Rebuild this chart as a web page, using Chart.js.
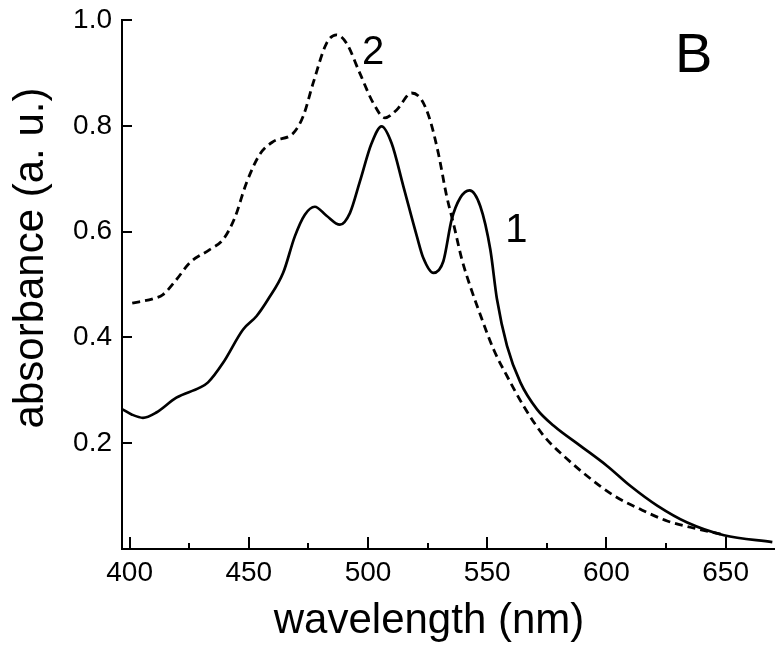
<!DOCTYPE html>
<html>
<head>
<meta charset="utf-8">
<script src="https://cdn.jsdelivr.net/npm/chart.js@4.4.1/dist/chart.umd.min.js"></script>
<style>
  body { margin: 0; background: #fff; }
</style>
</head>
<body>
<canvas id="chart" width="783" height="653"></canvas>
<script>
// curve 1 (solid)
const wl1 = [397, 401, 405.6, 411.2, 419.6, 429.4, 432.9, 439.2, 447.6, 453.2, 458.1, 464.4, 469.3, 473.5, 477.7, 482.6, 488.2, 492.4, 496.6, 501.5, 505.7, 509.9, 514.8, 520.5, 523.2, 527.4, 531.6, 535.1, 538.7, 542.6, 547.1, 551.3, 554.1, 558.3, 563.9, 570.9, 577.9, 589.1, 600.3, 610.1, 621.3, 633.9, 649.3, 669.6];
const abs1 = [0.264, 0.254, 0.248, 0.258, 0.286, 0.305, 0.315, 0.352, 0.415, 0.440, 0.472, 0.522, 0.591, 0.632, 0.647, 0.630, 0.613, 0.635, 0.695, 0.767, 0.799, 0.767, 0.686, 0.591, 0.550, 0.522, 0.544, 0.623, 0.664, 0.678, 0.648, 0.566, 0.472, 0.384, 0.315, 0.264, 0.233, 0.195, 0.157, 0.119, 0.082, 0.050, 0.026, 0.013];

// curve 2 (dashed)
const wl2 = [401.1, 409.8, 414, 419.6, 425.2, 433.6, 439.2, 444.1, 449, 454.6, 460.2, 468.6, 472.8, 477, 482.6, 486.8, 491, 496.6, 502.2, 507.1, 512, 518.3, 522.5, 526, 529.5, 533, 535.8, 539.4, 543, 547.1, 552.7, 558.3, 565.3, 573.7, 582.1, 591.9, 603.1, 614.3, 625.5, 638.1, 650];
const abs2 = [0.465, 0.473, 0.481, 0.509, 0.541, 0.566, 0.585, 0.626, 0.692, 0.746, 0.770, 0.786, 0.818, 0.881, 0.956, 0.972, 0.956, 0.899, 0.843, 0.815, 0.830, 0.862, 0.849, 0.811, 0.748, 0.667, 0.616, 0.547, 0.495, 0.443, 0.377, 0.327, 0.270, 0.214, 0.176, 0.138, 0.101, 0.075, 0.053, 0.038, 0.026];

// axis settings
const xMin = 396.8, xMax = 670.3, xStep = 25;
const yMin = 0, yMax = 1.0, yStep = 0.2;

// text labels placed in data coordinates
const marks = [
  { text: '2', x: 502.1, y: 0.938, size: 40 },
  { text: '1', x: 562.2, y: 0.602, size: 40 },
  { text: 'B', x: 636.6, y: 0.930, size: 56 }
];
const xTitle = 'wavelength (nm)';
const yTitle = 'absorbance (a. u.)';

const FONT = '"Liberation Sans", Arial, sans-serif';

const toPts = (xs, ys) => xs.map((x, i) => ({ x: x, y: ys[i] }));

const extras = {
  id: 'extras',
  afterDraw(chart) {
    const { ctx, chartArea, scales } = chart;
    const xs = scales.x, ys = scales.y;
    ctx.save();
    ctx.strokeStyle = '#000';
    ctx.lineWidth = 2;
    // inward tick marks
    xs.ticks.forEach(t => {
      const px = Math.round(xs.getPixelForValue(t.value));
      const len = (Math.round(t.value) % 50 === 0) ? 12 : 6;
      ctx.beginPath();
      ctx.moveTo(px, chartArea.bottom);
      ctx.lineTo(px, chartArea.bottom - len);
      ctx.stroke();
    });
    ys.ticks.forEach(t => {
      if (t.value <= 1e-9) return;
      const py = Math.round(ys.getPixelForValue(t.value));
      ctx.beginPath();
      ctx.moveTo(chartArea.left, py);
      ctx.lineTo(chartArea.left + 10, py);
      ctx.stroke();
    });
    // annotations
    ctx.fillStyle = '#000';
    ctx.textAlign = 'center';
    ctx.textBaseline = 'middle';
    marks.forEach(m => {
      ctx.font = m.size + 'px ' + FONT;
      ctx.fillText(m.text, xs.getPixelForValue(m.x), ys.getPixelForValue(m.y));
    });
    // axis titles
    ctx.font = '42px ' + FONT;
    ctx.textBaseline = 'alphabetic';
    ctx.fillText(xTitle, 429, 633);
    ctx.translate(43, 258);
    ctx.rotate(-Math.PI / 2);
    ctx.fillText(yTitle, 0, 0);
    ctx.restore();
  }
};

const ctx = document.getElementById('chart');

new Chart(ctx, {
  type: 'line',
  data: {
    datasets: [{
      label: '1',
      data: toPts(wl1, abs1),
      borderColor: '#000',
      borderWidth: 2.7,
      pointRadius: 0,
      cubicInterpolationMode: 'monotone',
      fill: false
    }, {
      label: '2',
      data: toPts(wl2, abs2),
      borderColor: '#000',
      borderWidth: 2.8,
      borderDash: [8, 5],
      pointRadius: 0,
      cubicInterpolationMode: 'monotone',
      fill: false
    }]
  },
  options: {
    responsive: false,
    animation: false,
    layout: { padding: { top: 20, right: 9, left: 0, bottom: 0 } },
    plugins: {
      legend: { display: false },
      tooltip: { enabled: false }
    },
    scales: {
      x: {
        type: 'linear',
        min: xMin,
        max: xMax,
        grid: { display: false, drawTicks: false },
        border: { display: true, color: '#000', width: 2 },
        ticks: {
          stepSize: xStep,
          includeBounds: false,
          autoSkip: false,
          maxRotation: 0,
          padding: 7,
          color: '#000',
          font: { family: FONT, size: 28 },
          callback: v => (Math.round(v) % 50 === 0 ? String(Math.round(v)) : '')
        },
        afterFit(scale) {
          scale.height = 104;
          scale.paddingLeft = 0;
          scale.paddingRight = 0;
        }
      },
      y: {
        min: yMin,
        max: yMax,
        grid: { display: false, drawTicks: false },
        border: { display: true, color: '#000', width: 2 },
        ticks: {
          stepSize: yStep,
          padding: 10,
          color: '#000',
          font: { family: FONT, size: 28 },
          callback: v => (Math.abs(v) < 1e-9 ? '' : v.toFixed(1))
        },
        afterFit(scale) {
          scale.width = 122;
          scale.paddingTop = 0;
          scale.paddingBottom = 0;
        }
      }
    }
  },
  plugins: [extras]
});
</script>
</body>
</html>
